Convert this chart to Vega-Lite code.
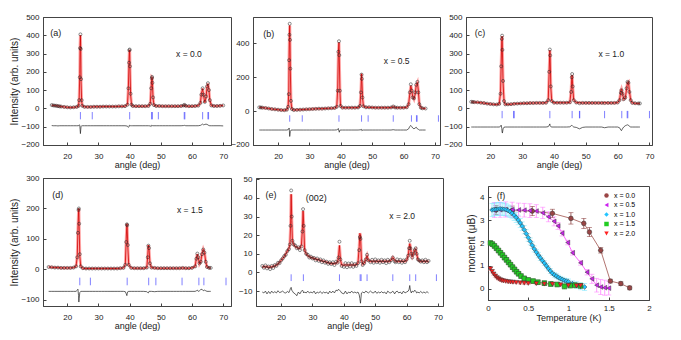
{
"$schema":"https://vega.github.io/schema/vega-lite/v6.json",
"padding":{"left":9,"top":12,"right":0,"bottom":0},
"background":"white",
"config":{
 "font":"Liberation Sans",
 "view":{"stroke":"#444","strokeWidth":1},
 "axis":{"grid":false,"domainColor":"#444","tickColor":"#444","tickSize":-3,"labelFontSize":8,"labelColor":"#222","titleFontSize":9,"titleFontWeight":"normal","titleColor":"#222","labelFlush":false,"labelOverlap":false},
 "axisX":{"labelPadding":10,"titlePadding":0},
 "axisY":{"labelPadding":7,"titlePadding":1,"titleFontSize":10}
},
"datasets":{
 "a":[
{"t":15,"o":18,"c":17,"d":-94},{"t":15.5,"o":16,"c":16,"d":-95},{"t":16,"o":15,"c":15,"d":-95},{"t":16.5,"o":14,"c":14,"d":-95},{"t":17,"o":12,"c":13,"d":-96},{"t":17.5,"o":11,"c":12,"d":-95},{"t":18,"o":10,"c":10,"d":-95},{"t":19,"o":8,"c":8,"d":-95},{"t":20,"o":6,"c":6,"d":-95},{"t":21,"o":5,"c":5,"d":-95},{"t":22,"o":6,"c":6,"d":-95},{"t":23,"o":8,"c":8,"d":-95},
{"t":23.6,"o":14,"c":12,"d":-95},{"t":23.8,"o":45,"c":50,"d":-90},{"t":24,"o":170,"c":190,"d":-92},{"t":24.1,"o":330,"c":345,"d":-115},{"t":24.2,"o":405,"c":400,"d":-138},{"t":24.3,"o":325,"c":315,"d":-118},{"t":24.4,"o":160,"c":150,"d":-100},{"t":24.6,"o":45,"c":40,"d":-95},{"t":24.8,"o":14,"c":14,"d":-95},
{"t":25.5,"o":8,"c":9,"d":-95},{"t":26.5,"o":8,"c":8,"d":-95},{"t":27.5,"o":8,"c":8,"d":-95},{"t":28.5,"o":9,"c":9,"d":-95},{"t":29.5,"o":9,"c":9,"d":-95},{"t":30.5,"o":9,"c":9,"d":-95},{"t":31.5,"o":10,"c":10,"d":-95},{"t":32.5,"o":10,"c":10,"d":-95},{"t":33.5,"o":10,"c":10,"d":-95},{"t":34.5,"o":10,"c":10,"d":-95},{"t":35.5,"o":10,"c":10,"d":-95},{"t":36.5,"o":11,"c":11,"d":-95},{"t":37.5,"o":11,"c":11,"d":-95},{"t":38.5,"o":12,"c":12,"d":-95},
{"t":39.3,"o":20,"c":22,"d":-97},{"t":39.6,"o":110,"c":120,"d":-104},{"t":39.8,"o":250,"c":265,"d":-100},{"t":39.9,"o":318,"c":312,"d":-92},{"t":40,"o":322,"c":320,"d":-93},{"t":40.1,"o":230,"c":220,"d":-92},{"t":40.3,"o":80,"c":75,"d":-95},{"t":40.6,"o":20,"c":20,"d":-95},
{"t":41,"o":13,"c":13,"d":-95},{"t":42,"o":12,"c":12,"d":-95},{"t":43,"o":12,"c":12,"d":-95},{"t":44,"o":12,"c":12,"d":-95},{"t":45,"o":12,"c":12,"d":-95},{"t":46,"o":13,"c":13,"d":-95},
{"t":46.6,"o":25,"c":25,"d":-96},{"t":46.9,"o":110,"c":115,"d":-99},{"t":47.1,"o":165,"c":170,"d":-92},{"t":47.2,"o":172,"c":168,"d":-93},{"t":47.3,"o":140,"c":135,"d":-95},{"t":47.5,"o":60,"c":55,"d":-95},{"t":47.8,"o":18,"c":18,"d":-95},
{"t":48.5,"o":13,"c":13,"d":-95},{"t":49.5,"o":13,"c":13,"d":-95},{"t":50.5,"o":12,"c":12,"d":-95},{"t":51.5,"o":12,"c":12,"d":-95},{"t":52.5,"o":12,"c":12,"d":-95},{"t":53.5,"o":12,"c":12,"d":-95},{"t":54.5,"o":12,"c":12,"d":-95},{"t":55.5,"o":12,"c":12,"d":-95},{"t":56.5,"o":13,"c":13,"d":-95},{"t":57.3,"o":16,"c":15,"d":-94},{"t":57.6,"o":19,"c":17,"d":-93},{"t":58,"o":14,"c":13,"d":-95},{"t":59,"o":12,"c":12,"d":-95},{"t":60,"o":12,"c":12,"d":-95},{"t":61,"o":13,"c":13,"d":-95},{"t":62,"o":15,"c":15,"d":-95},
{"t":62.7,"o":30,"c":30,"d":-93},{"t":63,"o":75,"c":80,"d":-90},{"t":63.4,"o":110,"c":108,"d":-86},{"t":63.7,"o":75,"c":70,"d":-90},{"t":64.1,"o":35,"c":32,"d":-88},{"t":64.5,"o":65,"c":60,"d":-86},{"t":64.8,"o":120,"c":115,"d":-88},{"t":65.1,"o":138,"c":135,"d":-90},{"t":65.4,"o":100,"c":105,"d":-94},{"t":65.7,"o":45,"c":45,"d":-95},{"t":66.2,"o":16,"c":16,"d":-95},{"t":67,"o":13,"c":13,"d":-95},{"t":68,"o":13,"c":13,"d":-95},{"t":69,"o":14,"c":14,"d":-95},{"t":70,"o":16,"c":16,"d":-96}],
 "ta":[{"t":24.2},{"t":28.0},{"t":40.0},{"t":47.0},{"t":47.3},{"t":49.2},{"t":57.5},{"t":57.7},{"t":63.4},{"t":65.1},{"t":65.3}],
 "b":[
{"t":14,"o":22,"c":22,"d":-112},{"t":14.5,"o":21,"c":21,"d":-112},{"t":15,"o":20,"c":20,"d":-112},{"t":16,"o":18,"c":18,"d":-112},{"t":17,"o":15,"c":15,"d":-112},{"t":18,"o":12,"c":12,"d":-112},{"t":19,"o":10,"c":10,"d":-112},{"t":20,"o":8,"c":8,"d":-112},{"t":21,"o":6,"c":6,"d":-112},{"t":22,"o":5,"c":5,"d":-112},{"t":22.8,"o":8,"c":8,"d":-112},
{"t":23.2,"o":25,"c":28,"d":-110},{"t":23.4,"o":100,"c":110,"d":-105},{"t":23.5,"o":300,"c":320,"d":-100},{"t":23.6,"o":450,"c":440,"d":-118},{"t":23.7,"o":515,"c":505,"d":-150},{"t":23.8,"o":420,"c":410,"d":-135},{"t":23.9,"o":250,"c":240,"d":-120},{"t":24.1,"o":60,"c":55,"d":-113},{"t":24.4,"o":12,"c":12,"d":-112},
{"t":25,"o":6,"c":6,"d":-112},{"t":26,"o":7,"c":7,"d":-112},{"t":27,"o":8,"c":8,"d":-112},{"t":28,"o":9,"c":9,"d":-112},{"t":29,"o":10,"c":10,"d":-112},{"t":30,"o":11,"c":11,"d":-112},{"t":31,"o":12,"c":12,"d":-112},{"t":32,"o":13,"c":13,"d":-112},{"t":33,"o":14,"c":14,"d":-112},{"t":34,"o":14,"c":14,"d":-112},{"t":35,"o":15,"c":15,"d":-112},{"t":36,"o":16,"c":16,"d":-112},{"t":37,"o":17,"c":17,"d":-112},{"t":38,"o":18,"c":18,"d":-112},
{"t":38.7,"o":25,"c":25,"d":-111},{"t":39,"o":120,"c":130,"d":-108},{"t":39.2,"o":350,"c":340,"d":-103},{"t":39.4,"o":412,"c":405,"d":-118},{"t":39.5,"o":330,"c":320,"d":-125},{"t":39.7,"o":120,"c":120,"d":-113},{"t":39.9,"o":30,"c":30,"d":-112},
{"t":40.5,"o":20,"c":20,"d":-112},{"t":41.5,"o":20,"c":20,"d":-112},{"t":42.5,"o":20,"c":20,"d":-112},{"t":43.5,"o":20,"c":20,"d":-112},{"t":44.5,"o":20,"c":20,"d":-112},{"t":45.5,"o":21,"c":21,"d":-112},
{"t":46.1,"o":30,"c":30,"d":-111},{"t":46.4,"o":110,"c":120,"d":-110},{"t":46.6,"o":215,"c":220,"d":-108},{"t":46.7,"o":190,"c":185,"d":-116},{"t":46.9,"o":80,"c":80,"d":-113},{"t":47.2,"o":28,"c":28,"d":-112},
{"t":48,"o":22,"c":22,"d":-112},{"t":49,"o":22,"c":22,"d":-112},{"t":50,"o":21,"c":21,"d":-112},{"t":51,"o":20,"c":20,"d":-112},{"t":52,"o":20,"c":20,"d":-112},{"t":53,"o":20,"c":20,"d":-112},{"t":54,"o":20,"c":20,"d":-112},{"t":55,"o":20,"c":20,"d":-112},{"t":56,"o":21,"c":21,"d":-112},{"t":56.7,"o":27,"c":25,"d":-110},{"t":57.3,"o":21,"c":21,"d":-112},{"t":58,"o":20,"c":20,"d":-112},{"t":59,"o":20,"c":20,"d":-112},{"t":60,"o":20,"c":20,"d":-112},{"t":61,"o":22,"c":22,"d":-112},
{"t":61.6,"o":40,"c":40,"d":-105},{"t":62,"o":110,"c":105,"d":-90},{"t":62.3,"o":158,"c":150,"d":-85},{"t":62.6,"o":120,"c":125,"d":-92},{"t":62.9,"o":80,"c":85,"d":-100},{"t":63.3,"o":75,"c":70,"d":-105},{"t":63.7,"o":110,"c":100,"d":-100},{"t":64,"o":155,"c":150,"d":-95},{"t":64.4,"o":172,"c":168,"d":-105},{"t":64.7,"o":110,"c":120,"d":-108},{"t":65,"o":40,"c":42,"d":-112},{"t":65.5,"o":20,"c":20,"d":-112},{"t":66,"o":16,"c":16,"d":-112},{"t":67,"o":15,"c":15,"d":-112}],
 "tb":[{"t":23.7},{"t":27.7},{"t":39.4},{"t":46.6},{"t":48.7},{"t":56.7},{"t":62.5},{"t":64.1},{"t":64.3},{"t":71.1}],
 "c":[
{"t":14,"o":36,"c":35,"d":-102},{"t":14.5,"o":35,"c":35,"d":-102},{"t":15,"o":34,"c":34,"d":-102},{"t":16,"o":33,"c":33,"d":-102},{"t":17,"o":31,"c":31,"d":-102},{"t":18,"o":29,"c":29,"d":-102},{"t":19,"o":26,"c":26,"d":-102},{"t":20,"o":24,"c":24,"d":-102},{"t":21,"o":22,"c":22,"d":-102},{"t":22,"o":21,"c":21,"d":-102},{"t":22.8,"o":25,"c":24,"d":-102},
{"t":23.2,"o":80,"c":85,"d":-98},{"t":23.4,"o":230,"c":240,"d":-92},{"t":23.6,"o":380,"c":370,"d":-110},{"t":23.7,"o":398,"c":395,"d":-130},{"t":23.8,"o":320,"c":310,"d":-135},{"t":24,"o":150,"c":140,"d":-112},{"t":24.3,"o":40,"c":40,"d":-103},{"t":24.7,"o":22,"c":22,"d":-102},
{"t":25.5,"o":22,"c":22,"d":-102},{"t":26.5,"o":23,"c":23,"d":-102},{"t":27.5,"o":25,"c":25,"d":-102},{"t":28.5,"o":26,"c":26,"d":-102},{"t":29.5,"o":27,"c":27,"d":-102},{"t":30.5,"o":28,"c":28,"d":-102},{"t":31.5,"o":28,"c":28,"d":-102},{"t":32.5,"o":29,"c":29,"d":-102},{"t":33.5,"o":29,"c":29,"d":-102},{"t":34.5,"o":30,"c":30,"d":-102},{"t":35.5,"o":30,"c":30,"d":-102},{"t":36.5,"o":30,"c":30,"d":-102},{"t":37.5,"o":31,"c":31,"d":-102},
{"t":38.2,"o":45,"c":45,"d":-100},{"t":38.5,"o":200,"c":210,"d":-92},{"t":38.7,"o":322,"c":318,"d":-85},{"t":38.8,"o":290,"c":280,"d":-95},{"t":39,"o":120,"c":115,"d":-100},{"t":39.3,"o":40,"c":40,"d":-102},
{"t":40,"o":31,"c":31,"d":-102},{"t":41,"o":31,"c":31,"d":-102},{"t":42,"o":31,"c":31,"d":-102},{"t":43,"o":31,"c":31,"d":-102},{"t":44,"o":31,"c":31,"d":-102},{"t":45,"o":33,"c":33,"d":-101},
{"t":45.4,"o":90,"c":100,"d":-95},{"t":45.6,"o":170,"c":175,"d":-92},{"t":45.7,"o":188,"c":182,"d":-94},{"t":45.9,"o":120,"c":115,"d":-98},{"t":46.2,"o":45,"c":45,"d":-102},
{"t":47,"o":32,"c":32,"d":-104},{"t":48,"o":28,"c":31,"d":-112},{"t":49,"o":30,"c":30,"d":-104},{"t":50,"o":30,"c":30,"d":-102},{"t":51,"o":30,"c":30,"d":-102},{"t":52,"o":30,"c":30,"d":-102},{"t":53,"o":30,"c":30,"d":-102},{"t":54,"o":30,"c":30,"d":-102},{"t":55,"o":30,"c":30,"d":-102},{"t":55.9,"o":29,"c":31,"d":-106},{"t":57,"o":30,"c":30,"d":-102},{"t":58,"o":30,"c":30,"d":-102},{"t":59,"o":30,"c":30,"d":-102},{"t":60,"o":32,"c":32,"d":-102},
{"t":60.6,"o":45,"c":45,"d":-106},{"t":61,"o":85,"c":95,"d":-118},{"t":61.2,"o":100,"c":105,"d":-122},{"t":61.5,"o":80,"c":85,"d":-112},{"t":61.9,"o":50,"c":50,"d":-102},{"t":62.4,"o":60,"c":55,"d":-95},{"t":62.8,"o":110,"c":105,"d":-92},{"t":63.1,"o":145,"c":140,"d":-90},{"t":63.4,"o":140,"c":145,"d":-92},{"t":63.7,"o":90,"c":95,"d":-98},{"t":64.1,"o":45,"c":45,"d":-102},{"t":64.6,"o":30,"c":30,"d":-102},{"t":65.5,"o":28,"c":28,"d":-102},{"t":66.5,"o":27,"c":27,"d":-102},{"t":67,"o":27,"c":27,"d":-102}],
 "tc":[{"t":23.7},{"t":27.3},{"t":27.5},{"t":38.7},{"t":45.7},{"t":48.0},{"t":48.1},{"t":55.9},{"t":61.3},{"t":63.0},{"t":63.2},{"t":70.0}],
 "d":[
{"t":14,"o":8,"c":8,"d":-72},{"t":15,"o":7,"c":7,"d":-72},{"t":16,"o":6,"c":6,"d":-72},{"t":17,"o":6,"c":6,"d":-72},{"t":18,"o":5,"c":5,"d":-72},{"t":19,"o":5,"c":5,"d":-72},{"t":20,"o":5,"c":5,"d":-72},{"t":21,"o":5,"c":5,"d":-72},{"t":22,"o":6,"c":6,"d":-72},{"t":22.8,"o":10,"c":10,"d":-72},
{"t":23.2,"o":40,"c":45,"d":-68},{"t":23.4,"o":120,"c":130,"d":-65},{"t":23.6,"o":195,"c":190,"d":-85},{"t":23.7,"o":200,"c":200,"d":-107},{"t":23.8,"o":150,"c":140,"d":-95},{"t":24,"o":50,"c":45,"d":-76},{"t":24.3,"o":10,"c":10,"d":-72},
{"t":25,"o":4,"c":4,"d":-72},{"t":26,"o":3,"c":3,"d":-72},{"t":27,"o":3,"c":3,"d":-72},{"t":28,"o":3,"c":3,"d":-72},{"t":29,"o":3,"c":3,"d":-72},{"t":30,"o":3,"c":3,"d":-72},{"t":31,"o":3,"c":3,"d":-72},{"t":32,"o":3,"c":3,"d":-72},{"t":33,"o":3,"c":3,"d":-72},{"t":34,"o":3,"c":3,"d":-72},{"t":35,"o":3,"c":3,"d":-72},{"t":36,"o":3,"c":3,"d":-72},{"t":37,"o":4,"c":4,"d":-72},{"t":38,"o":5,"c":5,"d":-72},
{"t":38.6,"o":15,"c":15,"d":-73},{"t":38.9,"o":90,"c":100,"d":-80},{"t":39.1,"o":148,"c":150,"d":-86},{"t":39.2,"o":145,"c":140,"d":-80},{"t":39.4,"o":80,"c":75,"d":-73},{"t":39.7,"o":15,"c":15,"d":-72},
{"t":40.5,"o":5,"c":5,"d":-72},{"t":41.5,"o":4,"c":4,"d":-72},{"t":42.5,"o":4,"c":4,"d":-72},{"t":43.5,"o":4,"c":4,"d":-72},{"t":44.5,"o":4,"c":4,"d":-72},{"t":45.5,"o":6,"c":6,"d":-73},
{"t":45.8,"o":40,"c":45,"d":-76},{"t":46,"o":78,"c":80,"d":-77},{"t":46.2,"o":70,"c":70,"d":-72},{"t":46.5,"o":20,"c":20,"d":-72},{"t":47,"o":6,"c":6,"d":-72},
{"t":48,"o":5,"c":5,"d":-73},{"t":49,"o":4,"c":4,"d":-72},{"t":50,"o":4,"c":4,"d":-72},{"t":51,"o":4,"c":4,"d":-72},{"t":52,"o":4,"c":4,"d":-72},{"t":53,"o":4,"c":4,"d":-72},{"t":54,"o":4,"c":4,"d":-72},{"t":55,"o":4,"c":4,"d":-72},{"t":56,"o":4,"c":4,"d":-72},{"t":57,"o":5,"c":5,"d":-72},{"t":58,"o":4,"c":4,"d":-72},{"t":59,"o":4,"c":4,"d":-72},{"t":60,"o":5,"c":5,"d":-72},{"t":61,"o":10,"c":10,"d":-72},
{"t":61.4,"o":35,"c":38,"d":-70},{"t":61.7,"o":52,"c":50,"d":-68},{"t":62,"o":40,"c":38,"d":-72},{"t":62.4,"o":20,"c":18,"d":-70},{"t":62.8,"o":25,"c":25,"d":-66},{"t":63.2,"o":50,"c":52,"d":-65},{"t":63.6,"o":65,"c":66,"d":-70},{"t":64,"o":55,"c":55,"d":-68},{"t":64.4,"o":25,"c":25,"d":-70},{"t":64.8,"o":8,"c":8,"d":-72},{"t":65.5,"o":5,"c":5,"d":-72},{"t":66,"o":5,"c":5,"d":-72}],
 "td":[{"t":24.0},{"t":27.4},{"t":39.2},{"t":46.1},{"t":48.4},{"t":56.8},{"t":62.2},{"t":63.8},{"t":70.9}],
 "e":[
{"t":14,"o":3.5,"c":3,"d":-10.5},{"t":14.5,"o":2.5,"c":3,"d":-11},{"t":15,"o":3.8,"c":3,"d":-10},{"t":15.5,"o":2.2,"c":3,"d":-11.5},{"t":16,"o":3.2,"c":2.8,"d":-10.2},{"t":16.5,"o":1.8,"c":2.8,"d":-11.3},{"t":17,"o":3.5,"c":3,"d":-10},{"t":17.5,"o":2.4,"c":3.2,"d":-11},{"t":18,"o":4,"c":3.5,"d":-10.3},{"t":18.5,"o":3.5,"c":4,"d":-11},{"t":19,"o":5.2,"c":4.5,"d":-9.8},{"t":19.5,"o":5,"c":5.5,"d":-10.8},{"t":20,"o":6.5,"c":6.5,"d":-10.5},{"t":20.5,"o":7.5,"c":7.5,"d":-10},{"t":21,"o":8.8,"c":8.5,"d":-10.8},{"t":21.5,"o":9.5,"c":10,"d":-11},{"t":22,"o":11.5,"c":11.5,"d":-10.2},{"t":22.5,"o":12.5,"c":13,"d":-10.8},{"t":22.8,"o":15,"c":15,"d":-9.5},
{"t":23,"o":25,"c":24,"d":-8.5},{"t":23.2,"o":44,"c":42,"d":-8},{"t":23.4,"o":30,"c":28,"d":-9.5},{"t":23.6,"o":17,"c":17,"d":-10},{"t":24,"o":15,"c":15,"d":-11},{"t":24.5,"o":14.5,"c":14,"d":-11.5},{"t":25,"o":13,"c":13.5,"d":-12.5},{"t":25.5,"o":13.5,"c":13,"d":-10.5},{"t":26,"o":12,"c":13,"d":-11.5},{"t":26.5,"o":14,"c":15,"d":-10},
{"t":26.8,"o":22,"c":24,"d":-9.5},{"t":27,"o":34,"c":33,"d":-10},{"t":27.2,"o":25,"c":26,"d":-11},{"t":27.5,"o":12,"c":12,"d":-10.5},{"t":28,"o":10,"c":10,"d":-11},{"t":28.5,"o":9.5,"c":9,"d":-10},{"t":29,"o":8,"c":8.5,"d":-11},{"t":29.5,"o":8.5,"c":8,"d":-10.5},{"t":30,"o":7.5,"c":7.8,"d":-11},{"t":30.5,"o":7.8,"c":7.5,"d":-10},{"t":31,"o":6.5,"c":7.2,"d":-11.5},{"t":31.5,"o":7.5,"c":7,"d":-10.5},{"t":32,"o":6.2,"c":6.8,"d":-11},{"t":32.5,"o":7,"c":6.5,"d":-10.2},{"t":33,"o":5.5,"c":6.2,"d":-11.3},{"t":33.5,"o":6.5,"c":6,"d":-10.5},{"t":34,"o":5.2,"c":5.8,"d":-11},{"t":34.5,"o":5.8,"c":5.5,"d":-10.5},{"t":35,"o":4.6,"c":5.2,"d":-11.5},{"t":35.5,"o":5.5,"c":5,"d":-10},{"t":36,"o":4.5,"c":4.8,"d":-11},{"t":36.5,"o":5.5,"c":4.8,"d":-10},{"t":37,"o":4,"c":4.8,"d":-11},{"t":37.5,"o":5.8,"c":5,"d":-9.5},{"t":38,"o":5.2,"c":5.5,"d":-9.8},
{"t":38.3,"o":8,"c":8.5,"d":-9},{"t":38.6,"o":16.5,"c":14.5,"d":-9.5},{"t":38.9,"o":7,"c":7,"d":-10},{"t":39.3,"o":3.5,"c":4,"d":-11},{"t":40,"o":3,"c":4,"d":-11.5},{"t":40.5,"o":5,"c":4,"d":-10},{"t":41,"o":2.8,"c":4,"d":-11.5},{"t":41.5,"o":4.8,"c":4,"d":-10.5},{"t":42,"o":3.2,"c":4,"d":-11},{"t":42.5,"o":5,"c":4,"d":-10},{"t":43,"o":3,"c":4,"d":-11},{"t":43.5,"o":4.5,"c":4,"d":-10.5},{"t":44,"o":3.5,"c":4.2,"d":-11},{"t":44.5,"o":5,"c":5,"d":-10.5},
{"t":44.9,"o":12,"c":14,"d":-12},{"t":45.1,"o":19,"c":21,"d":-14},{"t":45.3,"o":18,"c":20,"d":-16.5},{"t":45.6,"o":6,"c":7,"d":-11},{"t":46,"o":4,"c":4.5,"d":-10.5},{"t":46.5,"o":5,"c":5,"d":-11},{"t":47,"o":7,"c":7,"d":-10},{"t":47.4,"o":9.5,"c":9,"d":-10.5},{"t":47.8,"o":6.5,"c":6.5,"d":-11},
{"t":48.5,"o":5.5,"c":6,"d":-10},{"t":49,"o":6.8,"c":6,"d":-10.8},{"t":49.5,"o":5.2,"c":6,"d":-11},{"t":50,"o":7,"c":6,"d":-10},{"t":50.5,"o":5.5,"c":6,"d":-11.2},{"t":51,"o":6.5,"c":6,"d":-10.5},{"t":51.5,"o":5.2,"c":6,"d":-11},{"t":52,"o":6.8,"c":6,"d":-10.3},{"t":52.5,"o":5.5,"c":6,"d":-11},{"t":53,"o":6.5,"c":6,"d":-10.5},{"t":53.5,"o":5,"c":6,"d":-11.5},{"t":54,"o":6.8,"c":6,"d":-10},{"t":54.5,"o":5.5,"c":6,"d":-10.8},{"t":55,"o":6.5,"c":6.5,"d":-11},{"t":55.6,"o":8,"c":8,"d":-10},{"t":56.2,"o":6,"c":6.5,"d":-11.5},{"t":56.5,"o":5.5,"c":6,"d":-10.5},{"t":57,"o":7,"c":6,"d":-10},{"t":57.5,"o":5.5,"c":6,"d":-11},{"t":58,"o":6.8,"c":6,"d":-10.5},{"t":58.5,"o":5.2,"c":6,"d":-11.5},{"t":59,"o":6.5,"c":6,"d":-10},{"t":59.5,"o":5.5,"c":6,"d":-11},{"t":60,"o":7,"c":6.5,"d":-10.5},
{"t":60.5,"o":9,"c":9,"d":-10},{"t":60.8,"o":13,"c":13,"d":-9},{"t":61,"o":17,"c":15.5,"d":-7},{"t":61.2,"o":13,"c":14,"d":-9.5},{"t":61.5,"o":10,"c":10,"d":-11},{"t":61.8,"o":8,"c":8.5,"d":-10},{"t":62.2,"o":10,"c":10,"d":-10.5},{"t":62.6,"o":12,"c":12,"d":-9.5},{"t":62.9,"o":13,"c":12.5,"d":-10},{"t":63.2,"o":10,"c":10,"d":-11},{"t":63.6,"o":7,"c":7,"d":-10.5},{"t":64,"o":6.5,"c":6.2,"d":-11},{"t":64.5,"o":5.8,"c":6,"d":-10.2},{"t":65,"o":6.5,"c":6,"d":-11},{"t":65.5,"o":5.5,"c":6,"d":-10.5},{"t":66,"o":6.8,"c":6,"d":-11},{"t":66.5,"o":5.5,"c":6,"d":-10.3},{"t":67,"o":6.2,"c":6,"d":-11}],
 "te":[{"t":23.2},{"t":27.1},{"t":38.6},{"t":45.2},{"t":45.5},{"t":47.4},{"t":55.6},{"t":61.0},{"t":62.9},{"t":69.5}],
 "f":[
{"s":"x = 0.0","T":0.1,"m":3.45,"e":0.2},{"s":"x = 0.0","T":0.3,"m":3.42,"e":0.2},{"s":"x = 0.0","T":0.55,"m":3.4,"e":0.2},{"s":"x = 0.0","T":0.8,"m":3.3,"e":0.18},{"s":"x = 0.0","T":1.03,"m":3.08,"e":0.25},{"s":"x = 0.0","T":1.19,"m":2.86,"e":0.22},{"s":"x = 0.0","T":1.26,"m":2.48,"e":0.2},{"s":"x = 0.0","T":1.4,"m":1.68,"e":0.12},{"s":"x = 0.0","T":1.52,"m":0.33,"e":0.08},{"s":"x = 0.0","T":1.65,"m":0.22,"e":0.08},{"s":"x = 0.0","T":1.76,"m":0.03,"e":0.08},
{"s":"x = 0.5","T":0.08,"m":3.45,"e":0.33},{"s":"x = 0.5","T":0.15,"m":3.46,"e":0.33},{"s":"x = 0.5","T":0.22,"m":3.47,"e":0.33},{"s":"x = 0.5","T":0.3,"m":3.46,"e":0.33},{"s":"x = 0.5","T":0.38,"m":3.45,"e":0.3},{"s":"x = 0.5","T":0.45,"m":3.44,"e":0.3},{"s":"x = 0.5","T":0.52,"m":3.42,"e":0.3},{"s":"x = 0.5","T":0.6,"m":3.4,"e":0.28},{"s":"x = 0.5","T":0.68,"m":3.32,"e":0.25},{"s":"x = 0.5","T":0.75,"m":3.15,"e":0.22},{"s":"x = 0.5","T":0.82,"m":2.95,"e":0.2},{"s":"x = 0.5","T":0.87,"m":2.75,"e":0.15},{"s":"x = 0.5","T":0.92,"m":2.43,"e":0.12},{"s":"x = 0.5","T":0.99,"m":2.02,"e":0.1},{"s":"x = 0.5","T":1.05,"m":1.57,"e":0.1},{"s":"x = 0.5","T":1.15,"m":1.13,"e":0.1},{"s":"x = 0.5","T":1.23,"m":0.72,"e":0.12},{"s":"x = 0.5","T":1.29,"m":0.43,"e":0.2},{"s":"x = 0.5","T":1.35,"m":0.15,"e":0.3},{"s":"x = 0.5","T":1.4,"m":0.07,"e":0.33},{"s":"x = 0.5","T":1.45,"m":0.04,"e":0.33},{"s":"x = 0.5","T":1.5,"m":0.02,"e":0.3},
{"s":"x = 1.0","T":0.05,"m":3.45,"e":0.28},{"s":"x = 1.0","T":0.075,"m":3.47,"e":0.28},{"s":"x = 1.0","T":0.1,"m":3.48,"e":0.28},{"s":"x = 1.0","T":0.125,"m":3.49,"e":0.28},{"s":"x = 1.0","T":0.15,"m":3.5,"e":0.28},{"s":"x = 1.0","T":0.175,"m":3.49,"e":0.27},{"s":"x = 1.0","T":0.2,"m":3.48,"e":0.27},{"s":"x = 1.0","T":0.225,"m":3.46,"e":0.26},{"s":"x = 1.0","T":0.25,"m":3.42,"e":0.25},{"s":"x = 1.0","T":0.275,"m":3.37,"e":0.25},{"s":"x = 1.0","T":0.3,"m":3.3,"e":0.24},{"s":"x = 1.0","T":0.325,"m":3.22,"e":0.23},{"s":"x = 1.0","T":0.35,"m":3.12,"e":0.22},{"s":"x = 1.0","T":0.375,"m":3.01,"e":0.21},{"s":"x = 1.0","T":0.4,"m":2.88,"e":0.2},{"s":"x = 1.0","T":0.425,"m":2.74,"e":0.19},{"s":"x = 1.0","T":0.45,"m":2.58,"e":0.18},{"s":"x = 1.0","T":0.475,"m":2.41,"e":0.17},{"s":"x = 1.0","T":0.5,"m":2.24,"e":0.16},{"s":"x = 1.0","T":0.525,"m":2.07,"e":0.15},{"s":"x = 1.0","T":0.55,"m":1.9,"e":0.14},{"s":"x = 1.0","T":0.575,"m":1.74,"e":0.13},{"s":"x = 1.0","T":0.6,"m":1.6,"e":0.12},{"s":"x = 1.0","T":0.625,"m":1.47,"e":0.12},{"s":"x = 1.0","T":0.65,"m":1.35,"e":0.11},{"s":"x = 1.0","T":0.675,"m":1.23,"e":0.1},{"s":"x = 1.0","T":0.7,"m":1.12,"e":0.1},{"s":"x = 1.0","T":0.725,"m":1.0,"e":0.1},{"s":"x = 1.0","T":0.75,"m":0.88,"e":0.1},{"s":"x = 1.0","T":0.775,"m":0.77,"e":0.1},{"s":"x = 1.0","T":0.8,"m":0.67,"e":0.1},{"s":"x = 1.0","T":0.825,"m":0.6,"e":0.1},{"s":"x = 1.0","T":0.85,"m":0.55,"e":0.1},{"s":"x = 1.0","T":0.875,"m":0.49,"e":0.1},{"s":"x = 1.0","T":0.9,"m":0.44,"e":0.1},{"s":"x = 1.0","T":0.925,"m":0.4,"e":0.1},{"s":"x = 1.0","T":0.95,"m":0.36,"e":0.1},{"s":"x = 1.0","T":0.975,"m":0.33,"e":0.1},{"s":"x = 1.0","T":1.0,"m":0.3,"e":0.12},{"s":"x = 1.0","T":1.05,"m":0.22,"e":0.12},{"s":"x = 1.0","T":1.1,"m":0.15,"e":0.15},{"s":"x = 1.0","T":1.15,"m":0.1,"e":0.15},{"s":"x = 1.0","T":1.2,"m":0.07,"e":0.15},
{"s":"x = 1.5","T":0.03,"m":2.0,"e":0.1},{"s":"x = 1.5","T":0.055,"m":1.95,"e":0.1},{"s":"x = 1.5","T":0.08,"m":1.87,"e":0.1},{"s":"x = 1.5","T":0.105,"m":1.77,"e":0.1},{"s":"x = 1.5","T":0.13,"m":1.67,"e":0.1},{"s":"x = 1.5","T":0.155,"m":1.57,"e":0.1},{"s":"x = 1.5","T":0.18,"m":1.47,"e":0.1},{"s":"x = 1.5","T":0.205,"m":1.36,"e":0.1},{"s":"x = 1.5","T":0.23,"m":1.26,"e":0.1},{"s":"x = 1.5","T":0.255,"m":1.15,"e":0.1},{"s":"x = 1.5","T":0.28,"m":1.05,"e":0.1},{"s":"x = 1.5","T":0.305,"m":0.94,"e":0.1},{"s":"x = 1.5","T":0.33,"m":0.84,"e":0.1},{"s":"x = 1.5","T":0.355,"m":0.74,"e":0.1},{"s":"x = 1.5","T":0.38,"m":0.65,"e":0.1},{"s":"x = 1.5","T":0.41,"m":0.55,"e":0.1},{"s":"x = 1.5","T":0.45,"m":0.45,"e":0.1},{"s":"x = 1.5","T":0.5,"m":0.38,"e":0.1},{"s":"x = 1.5","T":0.56,"m":0.33,"e":0.1},{"s":"x = 1.5","T":0.62,"m":0.28,"e":0.1},{"s":"x = 1.5","T":0.7,"m":0.24,"e":0.1},{"s":"x = 1.5","T":0.78,"m":0.2,"e":0.1},{"s":"x = 1.5","T":0.86,"m":0.18,"e":0.1},{"s":"x = 1.5","T":0.95,"m":0.1,"e":0.12},{"s":"x = 1.5","T":1.02,"m":0.14,"e":0.12},{"s":"x = 1.5","T":1.08,"m":0.15,"e":0.12},{"s":"x = 1.5","T":1.15,"m":0.12,"e":0.12},
{"s":"x = 2.0","T":0.03,"m":0.87,"e":0.06},{"s":"x = 2.0","T":0.05,"m":0.75,"e":0.06},{"s":"x = 2.0","T":0.07,"m":0.64,"e":0.05},{"s":"x = 2.0","T":0.09,"m":0.55,"e":0.05},{"s":"x = 2.0","T":0.11,"m":0.48,"e":0.05},{"s":"x = 2.0","T":0.13,"m":0.43,"e":0.05},{"s":"x = 2.0","T":0.15,"m":0.39,"e":0.05},{"s":"x = 2.0","T":0.17,"m":0.36,"e":0.05},{"s":"x = 2.0","T":0.19,"m":0.34,"e":0.05},{"s":"x = 2.0","T":0.22,"m":0.32,"e":0.05},{"s":"x = 2.0","T":0.25,"m":0.3,"e":0.05},{"s":"x = 2.0","T":0.28,"m":0.29,"e":0.05},{"s":"x = 2.0","T":0.31,"m":0.28,"e":0.05},{"s":"x = 2.0","T":0.35,"m":0.27,"e":0.05},{"s":"x = 2.0","T":0.4,"m":0.25,"e":0.05},{"s":"x = 2.0","T":0.45,"m":0.24,"e":0.05},{"s":"x = 2.0","T":0.5,"m":0.23,"e":0.05},{"s":"x = 2.0","T":0.6,"m":0.22,"e":0.05},{"s":"x = 2.0","T":0.7,"m":0.2,"e":0.05},{"s":"x = 2.0","T":0.8,"m":0.2,"e":0.05},{"s":"x = 2.0","T":0.9,"m":0.17,"e":0.06},{"s":"x = 2.0","T":1.0,"m":0.14,"e":0.06},{"s":"x = 2.0","T":1.1,"m":0.12,"e":0.08},{"s":"x = 2.0","T":1.15,"m":0.13,"e":0.08}]
},
"resolve":{"legend":{"fill":"independent","shape":"independent"}},
"vconcat":[
 {"hconcat":[
  {"width":188,"height":128,"data":{"name":"a"},"layer":[
   {"mark":{"type":"line","color":"#ff0000","strokeWidth":3,"opacity":0.35},"encoding":{"x":{"field":"t","type":"quantitative","scale":{"domain":[12.2,72.5],"nice":false},"axis":{"values":[20,30,40,50,60,70],"tickCount":6,"title":"angle (deg)"}},"y":{"field":"c","type":"quantitative","scale":{"domain":[-200.4,500],"nice":false},"axis":{"values":[-200,-100,0,100,200,300,400,500],"tickCount":8,"title":"Intensity (arb. units)"}}}},
   {"mark":{"type":"line","color":"#d00000","strokeWidth":0.8},"encoding":{"x":{"field":"t","type":"quantitative"},"y":{"field":"c","type":"quantitative"}}},
   {"mark":{"type":"point","shape":"circle","size":9,"filled":false,"stroke":"#222","strokeWidth":0.6,"opacity":0.85},"encoding":{"x":{"field":"t","type":"quantitative"},"y":{"field":"o","type":"quantitative"}}},
   {"mark":{"type":"line","color":"#222","strokeWidth":0.7},"encoding":{"x":{"field":"t","type":"quantitative"},"y":{"field":"d","type":"quantitative"}}},
   {"data":{"name":"ta"},"mark":{"type":"rule","color":"#4a4aff","strokeWidth":1,"opacity":0.7},"encoding":{"x":{"field":"t","type":"quantitative"},"y":{"datum":-20},"y2":{"datum":-60}}},
   {"data":{"values":[{}]},"mark":{"type":"text","align":"left","fontSize":9,"color":"#222"},"encoding":{"x":{"datum":14.5},"y":{"datum":410},"text":{"value":"(a)"}}},
   {"data":{"values":[{}]},"mark":{"type":"text","align":"center","fontSize":8.5,"color":"#222"},"encoding":{"x":{"datum":59},"y":{"datum":300},"text":{"value":"x = 0.0"}}}
  ]},
  {"hconcat":[
   {"width":187,"height":128,"data":{"name":"b"},"layer":[
    {"mark":{"type":"line","color":"#ff0000","strokeWidth":3,"opacity":0.35},"encoding":{"x":{"field":"t","type":"quantitative","scale":{"domain":[12,71.6],"nice":false},"axis":{"values":[20,30,40,50,60,70],"tickCount":6,"title":"angle (deg)"}},"y":{"field":"c","type":"quantitative","scale":{"domain":[-200.4,555],"nice":false},"axis":{"values":[-200,0,200,400],"tickCount":4,"title":null}}}},
    {"mark":{"type":"line","color":"#d00000","strokeWidth":0.8},"encoding":{"x":{"field":"t","type":"quantitative"},"y":{"field":"c","type":"quantitative"}}},
    {"mark":{"type":"point","shape":"circle","size":9,"filled":false,"stroke":"#222","strokeWidth":0.6,"opacity":0.85},"encoding":{"x":{"field":"t","type":"quantitative"},"y":{"field":"o","type":"quantitative"}}},
    {"mark":{"type":"line","color":"#222","strokeWidth":0.7},"encoding":{"x":{"field":"t","type":"quantitative"},"y":{"field":"d","type":"quantitative"}}},
    {"data":{"name":"tb"},"mark":{"type":"rule","color":"#4a4aff","strokeWidth":1,"opacity":0.7},"encoding":{"x":{"field":"t","type":"quantitative"},"y":{"datum":-25},"y2":{"datum":-63}}},
    {"data":{"values":[{}]},"mark":{"type":"text","align":"left","fontSize":9,"color":"#222"},"encoding":{"x":{"datum":15.3},"y":{"datum":455},"text":{"value":"(b)"}}},
    {"data":{"values":[{}]},"mark":{"type":"text","align":"center","fontSize":8.5,"color":"#222"},"encoding":{"x":{"datum":57.8},"y":{"datum":295},"text":{"value":"x = 0.5"}}}
   ]},
   {"width":186,"height":128,"data":{"name":"c"},"layer":[
    {"mark":{"type":"line","color":"#ff0000","strokeWidth":3,"opacity":0.35},"encoding":{"x":{"field":"t","type":"quantitative","scale":{"domain":[12.35,70.8],"nice":false},"axis":{"values":[20,30,40,50,60,70],"tickCount":6,"title":"angle (deg)"}},"y":{"field":"c","type":"quantitative","scale":{"domain":[-200.4,500],"nice":false},"axis":{"values":[-200,-100,0,100,200,300,400,500],"tickCount":8,"title":null}}}},
    {"mark":{"type":"line","color":"#d00000","strokeWidth":0.8},"encoding":{"x":{"field":"t","type":"quantitative"},"y":{"field":"c","type":"quantitative"}}},
    {"mark":{"type":"point","shape":"circle","size":9,"filled":false,"stroke":"#222","strokeWidth":0.6,"opacity":0.85},"encoding":{"x":{"field":"t","type":"quantitative"},"y":{"field":"o","type":"quantitative"}}},
    {"mark":{"type":"line","color":"#222","strokeWidth":0.7},"encoding":{"x":{"field":"t","type":"quantitative"},"y":{"field":"d","type":"quantitative"}}},
    {"data":{"name":"tc"},"mark":{"type":"rule","color":"#4a4aff","strokeWidth":1,"opacity":0.7},"encoding":{"x":{"field":"t","type":"quantitative"},"y":{"datum":-14},"y2":{"datum":-54}}},
    {"data":{"values":[{}]},"mark":{"type":"text","align":"left","fontSize":9,"color":"#222"},"encoding":{"x":{"datum":15.1},"y":{"datum":411},"text":{"value":"(c)"}}},
    {"data":{"values":[{}]},"mark":{"type":"text","align":"center","fontSize":8.5,"color":"#222"},"encoding":{"x":{"datum":58},"y":{"datum":299},"text":{"value":"x = 1.0"}}}
   ]}
  ],"spacing":2}
 ],"spacing":-2},
 {"hconcat":[
  {"width":188,"height":128,"data":{"name":"d"},"layer":[
   {"mark":{"type":"line","color":"#ff0000","strokeWidth":3,"opacity":0.35},"encoding":{"x":{"field":"t","type":"quantitative","scale":{"domain":[12.2,72.5],"nice":false},"axis":{"values":[20,30,40,50,60,70],"tickCount":6,"title":"angle (deg)"}},"y":{"field":"c","type":"quantitative","scale":{"domain":[-120,300],"nice":false},"axis":{"values":[-100,0,100,200,300],"tickCount":5,"title":"Intensity (arb. units)"}}}},
   {"mark":{"type":"line","color":"#d00000","strokeWidth":0.8},"encoding":{"x":{"field":"t","type":"quantitative"},"y":{"field":"c","type":"quantitative"}}},
   {"mark":{"type":"point","shape":"circle","size":9,"filled":false,"stroke":"#222","strokeWidth":0.6,"opacity":0.85},"encoding":{"x":{"field":"t","type":"quantitative"},"y":{"field":"o","type":"quantitative"}}},
   {"mark":{"type":"line","color":"#222","strokeWidth":0.7},"encoding":{"x":{"field":"t","type":"quantitative"},"y":{"field":"d","type":"quantitative"}}},
   {"data":{"name":"td"},"mark":{"type":"rule","color":"#4a4aff","strokeWidth":1,"opacity":0.7},"encoding":{"x":{"field":"t","type":"quantitative"},"y":{"datum":-27},"y2":{"datum":-52}}},
   {"data":{"values":[{}]},"mark":{"type":"text","align":"left","fontSize":9,"color":"#222"},"encoding":{"x":{"datum":15.2},"y":{"datum":243},"text":{"value":"(d)"}}},
   {"data":{"values":[{}]},"mark":{"type":"text","align":"center","fontSize":8.5,"color":"#222"},"encoding":{"x":{"datum":59.3},"y":{"datum":196},"text":{"value":"x = 1.5"}}}
  ]},
  {"hconcat":[
   {"width":187,"height":128,"data":{"name":"e"},"layer":[
    {"mark":{"type":"line","color":"#ff0000","strokeWidth":3,"opacity":0.35},"encoding":{"x":{"field":"t","type":"quantitative","scale":{"domain":[12,71.6],"nice":false},"axis":{"values":[20,30,40,50,60,70],"tickCount":6,"title":"angle (deg)"}},"y":{"field":"c","type":"quantitative","scale":{"domain":[-18,50.7],"nice":false},"axis":{"values":[-10,0,10,20,30,40,50],"tickCount":7,"title":null}}}},
    {"mark":{"type":"line","color":"#d00000","strokeWidth":0.8},"encoding":{"x":{"field":"t","type":"quantitative"},"y":{"field":"c","type":"quantitative"}}},
    {"mark":{"type":"point","shape":"circle","size":9,"filled":false,"stroke":"#222","strokeWidth":0.6,"opacity":0.85},"encoding":{"x":{"field":"t","type":"quantitative"},"y":{"field":"o","type":"quantitative"}}},
    {"mark":{"type":"line","color":"#222","strokeWidth":0.7},"encoding":{"x":{"field":"t","type":"quantitative"},"y":{"field":"d","type":"quantitative"}}},
    {"data":{"name":"te"},"mark":{"type":"rule","color":"#4a4aff","strokeWidth":1,"opacity":0.7},"encoding":{"x":{"field":"t","type":"quantitative"},"y":{"datum":-1},"y2":{"datum":-4.6}}},
    {"data":{"values":[{}]},"mark":{"type":"text","align":"left","fontSize":9,"color":"#222"},"encoding":{"x":{"datum":15},"y":{"datum":41.4},"text":{"value":"(e)"}}},
    {"data":{"values":[{}]},"mark":{"type":"text","align":"center","fontSize":9,"color":"#222"},"encoding":{"x":{"datum":31.2},"y":{"datum":40},"text":{"value":"(002)"}}},
    {"data":{"values":[{}]},"mark":{"type":"text","align":"center","fontSize":8.5,"color":"#222"},"encoding":{"x":{"datum":58.6},"y":{"datum":30.1},"text":{"value":"x = 2.0"}}}
   ]},
   {"vconcat":[
    {"width":1,"height":7,"data":{"values":[]},"mark":"point","view":{"stroke":null}},
    {"width":161,"height":114,"data":{"name":"f"},"layer":[
     {"mark":{"type":"line","strokeWidth":0.8},"encoding":{"x":{"field":"T","type":"quantitative","title":"Temperature (K)","scale":{"domain":[0,2],"nice":false},"axis":{"values":[0,0.5,1,1.5,2],"tickCount":5,"format":"~g","labelPadding":7,"titlePadding":1}},"y":{"field":"m","type":"quantitative","title":"moment (μB)","scale":{"domain":[-0.5,4.5],"nice":false},"axis":{"values":[0,1,2,3,4],"tickCount":5,"titlePadding":3}},"stroke":{"field":"s","type":"nominal","scale":{"domain":["x = 0.0","x = 0.5","x = 1.0","x = 1.5","x = 2.0"],"range":["#a0524d","#ff40ff","#40e0ff","#40d040","#ff8080"]},"legend":null}}},
     {"mark":{"type":"errorbar","ticks":true,"thickness":0.8},"encoding":{"x":{"field":"T","type":"quantitative","title":"Temperature (K)"},"y":{"field":"m","type":"quantitative","title":"moment (μB)"},"yError":{"field":"e"},"color":{"field":"s","type":"nominal","scale":{"domain":["x = 0.0","x = 0.5","x = 1.0","x = 1.5","x = 2.0"],"range":["#8b4040","#ff80ff","#80e8ff","#60e060","#ff9090"]},"legend":null}}},
     {"mark":{"type":"point","filled":true,"size":22,"stroke":"#333","strokeWidth":0.5,"opacity":1},"encoding":{"x":{"field":"T","type":"quantitative","title":"Temperature (K)"},"y":{"field":"m","type":"quantitative","title":"moment (μB)"},"fill":{"field":"s","type":"nominal","scale":{"domain":["x = 0.0","x = 0.5","x = 1.0","x = 1.5","x = 2.0"],"range":["#9a4545","#cc22ee","#22c4ff","#22cc22","#ff2020"]},"legend":{"orient":"none","legendX":115,"legendY":6,"title":null,"labelFontSize":7,"symbolSize":20,"rowPadding":1.5,"padding":0,"labelOffset":4,"symbolStrokeWidth":0.5,"symbolStrokeColor":"#333"}},"shape":{"field":"s","type":"nominal","scale":{"domain":["x = 0.0","x = 0.5","x = 1.0","x = 1.5","x = 2.0"],"range":["circle","triangle-left","diamond","square","triangle-down"]},"legend":{"orient":"none","legendX":115,"legendY":6,"title":null,"labelFontSize":7,"symbolSize":20,"rowPadding":1.5,"padding":0,"labelOffset":4,"symbolStrokeWidth":0.5,"symbolStrokeColor":"#333"}}}},
     {"data":{"values":[{}]},"mark":{"type":"text","align":"left","fontSize":9,"color":"#222"},"encoding":{"x":{"datum":0.11},"y":{"datum":4.07},"text":{"value":"(f)"}}}
    ]}
   ],"spacing":0,"resolve":{"legend":{"fill":"independent","shape":"independent"}}}
  ],"spacing":22,"resolve":{"legend":{"fill":"independent","shape":"independent"}}}
 ],"spacing":5,"resolve":{"legend":{"fill":"independent","shape":"independent"}}}
],
"spacing":3
}
